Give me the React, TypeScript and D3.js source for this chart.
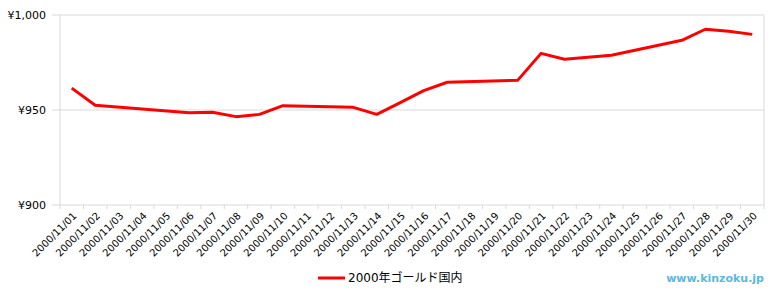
import React from "react";
import * as d3 from "d3";

const categories = Array.from({ length: 30 }, (_, i) => `2000/11/${String(i + 1).padStart(2, "0")}`);
const dataDates = ["2000/11/01","2000/11/02","2000/11/06","2000/11/07","2000/11/08","2000/11/09","2000/11/10","2000/11/13","2000/11/14","2000/11/15","2000/11/16","2000/11/17","2000/11/20","2000/11/21","2000/11/22","2000/11/24","2000/11/27","2000/11/28","2000/11/29","2000/11/30"];
const dataValues = [961.5,952.5,948.6,948.8,946.5,947.7,952.3,951.4,947.7,953.9,960.2,964.6,965.6,979.8,976.7,978.8,986.7,992.5,991.4,989.8];
const yTicks = [900, 950, 1000];
const seriesName = "2000年ゴールド国内";
const watermark = "www.kinzoku.jp";

const W = 780, H = 300;
const L = 60, R = 764, T = 15, B = 205;
const font = "'DejaVu Sans', 'Noto Sans CJK JP', sans-serif";

export default function App() {
  const x = d3.scaleBand().domain(categories).range([L, R]).padding(0);
  const y = d3.scaleLinear().domain([900, 1000]).range([B, T]);
  const pts = dataDates.map((d, i) => [x(d)! + x.bandwidth() / 2, y(dataValues[i])] as [number, number]);
  const line = d3.line()(pts) || "";
  const grid = "#d9d9d9";
  return (
    <svg width={W} height={H} style={{ position: "absolute", left: 0, top: 0 }}>
      <rect width={W} height={H} fill="#fff" />
      {yTicks.map((t) => (
        <g key={t}>
          <line x1={L - 8} x2={R} y1={y(t)} y2={y(t)} stroke={grid} strokeWidth={1} />
          <text x={L - 14} y={y(t)} dy="0.35em" textAnchor="end" fontSize={11} fontFamily={font} fill="#000">
            {d3.format(",")(t).replace(/^/, "¥")}
          </text>
        </g>
      ))}
      <line x1={L} x2={L} y1={T} y2={B} stroke={grid} />
      <line x1={R} x2={R} y1={T} y2={B + 4} stroke={grid} />
      {categories.map((c, i) => (
        <line key={"t" + i} x1={x(c)!} x2={x(c)!} y1={B} y2={B + 4} stroke={grid} />
      ))}
      {categories.map((c) => {
        const cx = x(c)! + x.bandwidth() / 2 + 3;
        const cy = B + 9;
        return (
          <text key={c} transform={`translate(${cx},${cy}) rotate(-45)`} textAnchor="end" dy="0.35em" fontSize={10} fontFamily={font} fill="#000">
            {c}
          </text>
        );
      })}
      <path d={line} fill="none" stroke="#ff0000" strokeWidth={3} strokeLinejoin="round" />
      <line x1={318} x2={345} y1={278} y2={278} stroke="#ff0000" strokeWidth={3} />
      <text x={348} y={278} dy="0.35em" fontSize={12} fontFamily={font} fill="#000">{seriesName}</text>
      <text x={764} y={278} dy="0.35em" textAnchor="end" fontSize={11} fontWeight="bold" fontFamily={font} fill="#5bb8e0">{watermark}</text>
    </svg>
  );
}
